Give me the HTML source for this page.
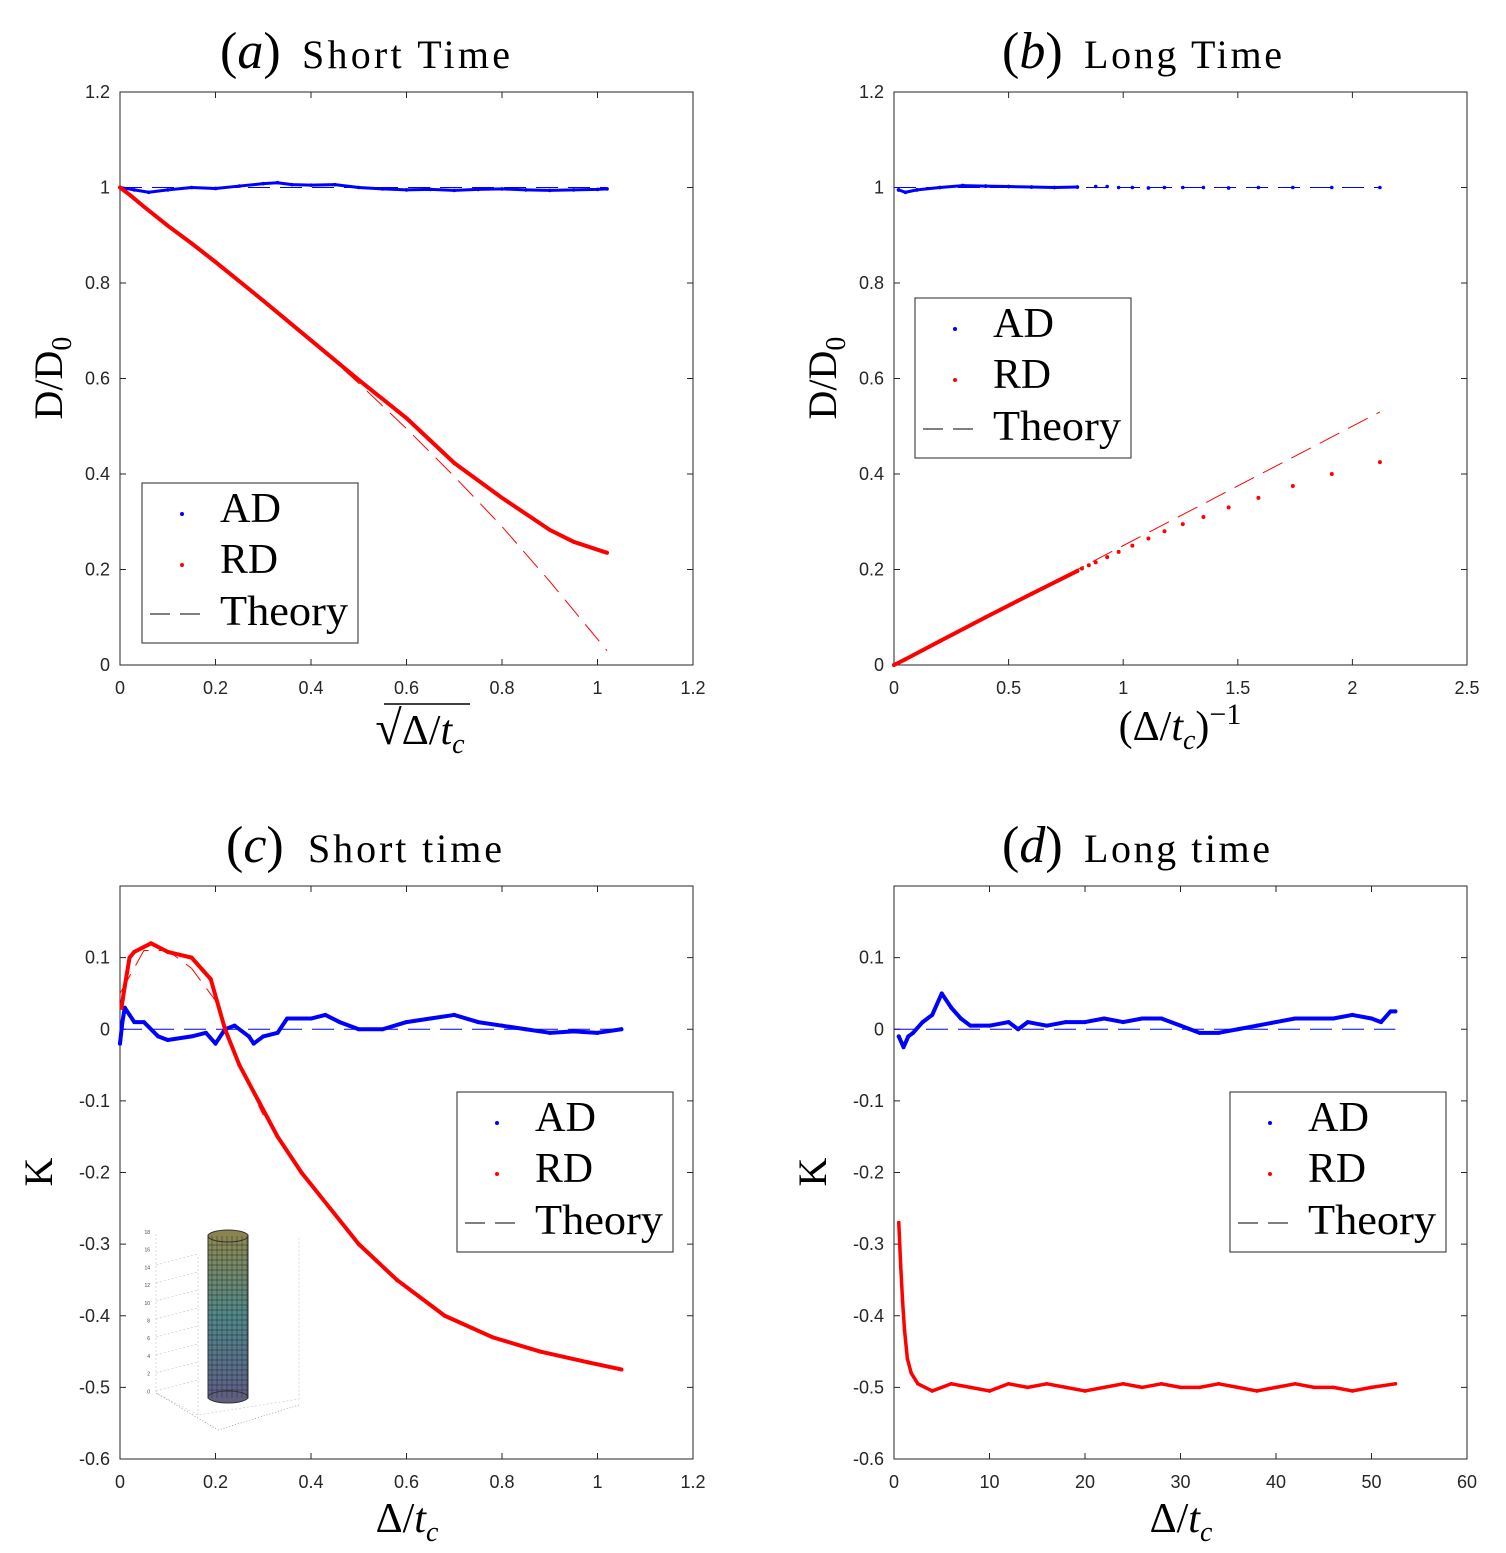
<!DOCTYPE html>
<html><head><meta charset="utf-8"><style>
body{margin:0;background:#fff;}
svg{display:block;font-family:"Liberation Sans",sans-serif;}
.tk{font-size:18px;fill:#262626;}
.ser{font-family:"Liberation Serif",serif;fill:#000;}
</style></head><body>
<svg id="fig" width="1506" height="1553" viewBox="0 0 1506 1553" xmlns="http://www.w3.org/2000/svg">
<rect width="1506" height="1553" fill="#fff"/>
</svg>
<script>
// ---- Panel (a) data ----
const aAdX=[0,0.03,0.06,0.1,0.15,0.2,0.25,0.3,0.33,0.36,0.4,0.45,0.5,0.55,0.6,0.65,0.7,0.75,0.8,0.85,0.9,0.95,1.0,1.02];
const aAdY=[1.0,0.995,0.99,0.995,1.0,0.998,1.003,1.008,1.01,1.006,1.005,1.006,1.0,0.997,0.995,0.996,0.994,0.996,0.997,0.995,0.994,0.995,0.996,0.997];
const aRdX=[0,0.02,0.05,0.1,0.15,0.2,0.3,0.4,0.5,0.6,0.7,0.8,0.9,0.95,1.02];
const aRdY=[1.0,0.985,0.96,0.92,0.883,0.844,0.763,0.68,0.597,0.517,0.423,0.35,0.283,0.258,0.235];
const aThX=[0,0.2,0.4,0.5,0.6,0.7,0.8,0.9,1.02];
const aThY=[1.0,0.845,0.68,0.59,0.495,0.395,0.29,0.175,0.03];
// ---- Panel (b) data ----
const bAdX=[0.02,0.05,0.1,0.2,0.3,0.4,0.5,0.6,0.7,0.8,0.88,0.93,0.98,1.04,1.11,1.18,1.26,1.35,1.46,1.59,1.74,1.91,2.12];
const bAdY=[0.995,0.99,0.995,1.0,1.004,1.003,1.002,1.001,1.0,1.001,1.002,1.002,1.0,1.0,0.999,1.0,1.0,1.0,0.999,1.0,1.0,1.0,1.0];
const bRdDenseX=[0,0.05,0.2,0.4,0.6,0.8];
const bRdDenseY=[0,0.012,0.05,0.1,0.149,0.197];
const bRdX=[0.82,0.85,0.88,0.93,0.98,1.04,1.11,1.18,1.26,1.35,1.46,1.59,1.74,1.91,2.12];
const bRdY=[0.202,0.209,0.215,0.226,0.237,0.25,0.265,0.28,0.295,0.31,0.33,0.35,0.375,0.4,0.425];
const bThX=[0,2.12];
const bThY=[0,0.53];
// ---- Panel (c) data ----
const cAdX=[0,0.005,0.01,0.02,0.03,0.05,0.08,0.1,0.15,0.18,0.2,0.22,0.24,0.27,0.28,0.3,0.33,0.35,0.4,0.43,0.46,0.5,0.55,0.6,0.65,0.7,0.75,0.8,0.85,0.9,0.95,1.0,1.05];
const cAdY=[-0.02,0.01,0.03,0.02,0.01,0.01,-0.01,-0.015,-0.01,-0.005,-0.02,0.0,0.005,-0.01,-0.02,-0.01,-0.005,0.015,0.015,0.02,0.01,0.0,0.0,0.01,0.015,0.02,0.01,0.005,0.0,-0.005,-0.003,-0.005,0.0];
const cRdX=[0.003,0.01,0.02,0.03,0.065,0.1,0.15,0.19,0.22,0.25,0.29,0.33,0.38,0.44,0.5,0.58,0.68,0.78,0.88,0.98,1.05];
const cRdY=[0.03,0.06,0.1,0.108,0.12,0.108,0.1,0.07,0.0,-0.05,-0.1,-0.15,-0.2,-0.25,-0.3,-0.35,-0.4,-0.43,-0.45,-0.465,-0.475];
const cThX=[0,0.05,0.1,0.15,0.2,0.25,0.3];
const cThY=[0.05,0.11,0.11,0.085,0.04,-0.05,-0.12];
// ---- Panel (d) data ----
const dAdX=[0.5,1,1.5,2,3,4,5,6,7,8,10,12,13,14,16,18,20,22,24,26,28,30,32,34,36,38,40,42,44,46,48,50,51,52,52.5];
const dAdY=[-0.01,-0.025,-0.01,-0.005,0.01,0.02,0.05,0.03,0.015,0.005,0.005,0.01,0.0,0.01,0.005,0.01,0.01,0.015,0.01,0.015,0.015,0.005,-0.005,-0.005,0.0,0.005,0.01,0.015,0.015,0.015,0.02,0.015,0.01,0.025,0.025];
const dRdX=[0.5,0.7,0.9,1.1,1.4,1.8,2.5,4,6,8,10,12,14,16,18,20,22,24,26,28,30,32,34,36,38,40,42,44,46,48,50,52.5];
const dRdY=[-0.27,-0.33,-0.38,-0.42,-0.46,-0.48,-0.495,-0.505,-0.495,-0.5,-0.505,-0.495,-0.5,-0.495,-0.5,-0.505,-0.5,-0.495,-0.5,-0.495,-0.5,-0.5,-0.495,-0.5,-0.505,-0.5,-0.495,-0.5,-0.5,-0.505,-0.5,-0.495];
const dThX=[0,52.5];
const dThY=[0,0];

const NS='http://www.w3.org/2000/svg';
const fig=document.getElementById('fig');
function mk(tag,attrs,parent){const e=document.createElementNS(NS,tag);for(const k in attrs)e.setAttribute(k,attrs[k]);(parent||fig).appendChild(e);return e;}
function axes(L,T,W,H,x0,x1,y0,y1,xt,yt,xfmt,yfmt,name){
  const g=mk('g',{});
  
  
  const sx=v=>L+(v-x0)/(x1-x0)*W, sy=v=>T+H-(v-y0)/(y1-y0)*H;
  mk('rect',{x:L,y:T,width:W,height:H,fill:'none',stroke:'#262626','stroke-width':1},g);
  xt.forEach(v=>{const x=sx(v);mk('line',{x1:x,y1:T+H,x2:x,y2:T+H-6,stroke:'#262626'},g);mk('line',{x1:x,y1:T,x2:x,y2:T+6,stroke:'#262626'},g);
    const t=mk('text',{x:x,y:T+H+29,'text-anchor':'middle',class:'tk'},g);t.textContent=xfmt(v);
    
    });
  yt.forEach(v=>{const y=sy(v);mk('line',{x1:L,y1:y,x2:L+6,y2:y,stroke:'#262626'},g);mk('line',{x1:L+W,y1:y,x2:L+W-6,y2:y,stroke:'#262626'},g);
    const t=mk('text',{x:L-10,y:y+6,'text-anchor':'end',class:'tk'},g);t.textContent=yfmt(v);
    
    });
  return {sx,sy,g};
}
function series(ax,xs,ys,color,lw,r,name){
  const g=mk('g',{},ax.g);
  
  
  if(lw>0){mk('polyline',{points:xs.map((v,i)=>ax.sx(v)+','+ax.sy(ys[i])).join(' '),fill:'none',stroke:color,'stroke-width':lw,'stroke-linejoin':'round','stroke-linecap':'round'},g);}
  xs.forEach((v,i)=>{mk('circle',{cx:ax.sx(v),cy:ax.sy(ys[i]),r:r,fill:color},g);});
}
function dashed(ax,xs,ys,color,name){
  const p=mk('polyline',{points:xs.map((v,i)=>ax.sx(v)+','+ax.sy(ys[i])).join(' '),fill:'none',stroke:color,'stroke-width':1,'stroke-dasharray':'22,10'},ax.g);
  
  
}
function legend(x,y,name){
  const g=mk('g',{});
  
  
  mk('rect',{x:x,y:y,width:216,height:160,fill:'#fff',stroke:'#262626'},g);
  mk('circle',{cx:x+40,cy:y+31,r:2,fill:'#0000ff'},g);
  mk('circle',{cx:x+40,cy:y+82,r:2,fill:'#ff0000'},g);
  mk('line',{x1:x+8,y1:y+131,x2:x+64,y2:y+131,stroke:'#000','stroke-dasharray':'20,10'},g);
  [['AD',39],['RD',90],['Theory',142]].forEach(([s,dy])=>{const t=mk('text',{x:x+78,y:y+dy,class:'ser','font-size':42,textLength:s==='Theory'?128:(s==='AD'?61:58),lengthAdjust:'spacingAndGlyphs'},g);t.textContent=s;});
}
function title(x,y,letter,rest,restLen,name){
  const t=mk('text',{x:x,y:y,class:'ser','font-size':40});
  
  
  t.innerHTML='<tspan font-size="52">(</tspan><tspan font-size="52" font-style="italic">'+letter+'</tspan><tspan font-size="52">)</tspan>';
  const r=mk('text',{x:x+82,y:y,class:'ser','font-size':40,textLength:restLen,lengthAdjust:'spacing'});
  r.textContent=rest;
}
function ylab(x,y,html,name){
  const t=mk('text',{x:x,y:y,class:'ser','font-size':40,'text-anchor':'middle',transform:'rotate(-90 '+x+' '+y+')'});
  
  
  t.innerHTML=html;
}
function xlab(x,y,html,name){
  const t=mk('text',{x:x,y:y,class:'ser','font-size':42,'text-anchor':'middle'});
  
  
  t.innerHTML=html;
}
const f1=v=>(Math.round(v*10)/10).toString();
const fK=v=>{const r=Math.round(v*10)/10;return r.toString();};
const DT='Δ/<tspan font-style="italic">t</tspan><tspan font-style="italic" font-size="28" dy="9">c</tspan>';
// Panel a
const A=axes(120,92,573,573,0,1.2,0,1.2,[0,0.2,0.4,0.6,0.8,1,1.2],[0,0.2,0.4,0.6,0.8,1,1.2],f1,f1,'panel-a-axes');
dashed(A,[0,1.02],[1,1],'#0000ff','theory-ad-a');
series(A,aAdX,aAdY,'#0000ff',3,1.8,'ad-series-a');
dashed(A,aThX,aThY,'#ff0000','theory-rd-a');
series(A,aRdX,aRdY,'#ff0000',4,1.8,'rd-series-a');
legend(142,483,'legend-a');
title(220,68,'a','Short Time',208,'title-a');
ylab(62,378,'D/D<tspan font-size="28" dy="9">0</tspan>','y-axis-title-a');
xlab(420,744,'<tspan font-size="48">√</tspan>'+DT,'x-axis-title-a');
mk('line',{x1:384,y1:704,x2:470,y2:704,stroke:'#000','stroke-width':1.5});
// Panel b
const B=axes(894,92,573,573,0,2.5,0,1.2,[0,0.5,1,1.5,2,2.5],[0,0.2,0.4,0.6,0.8,1,1.2],f1,f1,'panel-b-axes');
dashed(B,[0,2.12],[1,1],'#0000ff','theory-ad-b');
series(B,bAdX,bAdY,'#0000ff',0,1.8,'ad-series-b');
series(B,bAdX.slice(0,10),bAdY.slice(0,10),'#0000ff',3,1.8,'ad-dense-b');
dashed(B,bThX,bThY,'#ff0000','theory-rd-b');
series(B,bRdDenseX,bRdDenseY,'#ff0000',4,2,'rd-dense-b');
series(B,bRdX,bRdY,'#ff0000',0,2,'rd-series-b');
legend(915,298,'legend-b');
title(1002,68,'b','Long Time',198,'title-b');
ylab(836,378,'D/D<tspan font-size="28" dy="9">0</tspan>','y-axis-title-b');
xlab(1180,740,'('+DT+'<tspan dy="-9">)</tspan><tspan font-size="30" dy="-16">−1</tspan>','x-axis-title-b');
// Panel c
const C=axes(120,886,573,573,0,1.2,-0.6,0.2,[0,0.2,0.4,0.6,0.8,1,1.2],[-0.6,-0.5,-0.4,-0.3,-0.2,-0.1,0,0.1],f1,fK,'panel-c-axes');
dashed(C,[0,1.05],[0,0],'#0000ff','theory-ad-c');
series(C,cAdX,cAdY,'#0000ff',4,2,'ad-series-c');
dashed(C,cThX,cThY,'#ff0000','theory-rd-c');
series(C,cRdX,cRdY,'#ff0000',4,2,'rd-series-c');
legend(457,1092,'legend-c');
title(226,862,'c','Short time',194,'title-c');
ylab(52,1172,'K','y-axis-title-c');
xlab(407,1532,DT,'x-axis-title-c');
// inset
(function(){
  const g=mk('g',{});
  
  
  const gr=mk('linearGradient',{id:'cyl',x1:0,y1:0,x2:0,y2:1},mk('defs',{},g));
  mk('stop',{offset:'0',  'stop-color':'#8f8a50'},gr);mk('stop',{offset:'0.5','stop-color':'#4f8a8c'},gr);mk('stop',{offset:'1','stop-color':'#5f5f8a'},gr);
  const st={stroke:'#ccc','stroke-width':0.7,'stroke-dasharray':'2,2',fill:'none'};
  mk('polyline',Object.assign({points:'156,1234 156,1393 198,1415 299,1399 299,1238'},st),g);
  mk('polyline',Object.assign({points:'198,1415 198,1255'},st),g);
  mk('polyline',Object.assign({points:'156,1393 218,1430 299,1405'},{stroke:'#888','stroke-width':0.7,'stroke-dasharray':'1,2',fill:'none'}),g);
  for(let i=0;i<8;i++){mk('line',Object.assign({x1:156,y1:1391-i*18,x2:198,y2:1380-i*18},st),g);}
  mk('rect',{x:208,y:1235,width:40,height:163,fill:'url(#cyl)',stroke:'#333','stroke-width':1},g);
  mk('ellipse',{cx:228,cy:1236,rx:20,ry:6,fill:'#8a8550',stroke:'#333'},g);
  mk('ellipse',{cx:228,cy:1397,rx:20,ry:6,fill:'#5f5f80',stroke:'#333'},g);
  for(let y=1245;y<1395;y+=5){mk('line',{x1:208,y1:y,x2:248,y2:y,stroke:'rgba(30,30,30,0.45)','stroke-width':1},g);}
  for(let x=212;x<248;x+=5){mk('line',{x1:x,y1:1236,x2:x,y2:1398,stroke:'rgba(30,30,30,0.4)','stroke-width':1},g);}
  ['18','16','14','12','10','8','6','4','2','0'].forEach((s,i)=>{const t=mk('text',{x:150,y:1234+i*17.7,'font-size':5,'text-anchor':'end',fill:'#444'},g);t.textContent=s;});
})();
// Panel d
const D=axes(894,886,573,573,0,60,-0.6,0.2,[0,10,20,30,40,50,60],[-0.6,-0.5,-0.4,-0.3,-0.2,-0.1,0,0.1],v=>String(v),fK,'panel-d-axes');
dashed(D,dThX,dThY,'#0000ff','theory-ad-d');
series(D,dAdX,dAdY,'#0000ff',4,2,'ad-series-d');
series(D,dRdX,dRdY,'#ff0000',3.5,1.8,'rd-series-d');
legend(1230,1092,'legend-d');
title(1002,862,'d','Long time',186,'title-d');
ylab(826,1172,'K','y-axis-title-d');
xlab(1181,1532,DT,'x-axis-title-d');
</script>
</body></html>
